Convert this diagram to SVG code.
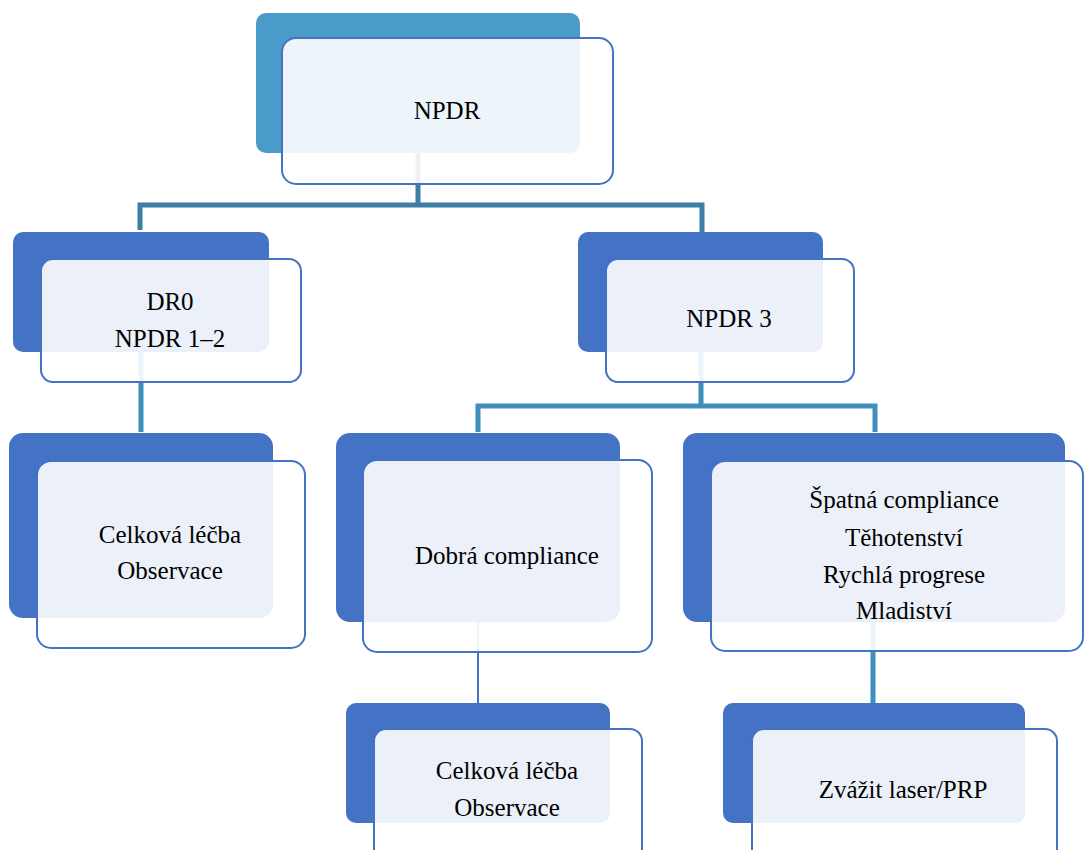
<svg xmlns="http://www.w3.org/2000/svg" width="1085" height="850" viewBox="0 0 1085 850">
<style>
.back{fill:#4472c4}
.backTop{fill:#4a9bc9}
.front{fill:#ffffff;fill-opacity:0.9;stroke:#4472c4;stroke-width:2}
.c1{stroke:#3c7ea5;stroke-width:5;fill:none}
.c2{stroke:#3e8fbd;stroke-width:5;fill:none}
.c3{stroke:#4472c4;stroke-width:2;fill:none}
.t{font-family:'Liberation Serif','DejaVu Serif',serif;font-size:25px;fill:#000;text-anchor:middle}
</style>
<rect width="1085" height="850" fill="#ffffff"/>
<g id="connectors">
<path class="c1" d="M418 153 V205 M140 230 V205 H702 V232"/>
<path class="c2" d="M141 352 V432"/>
<path class="c2" d="M701 352 V406 M478 432 V406 H875 V432"/>
<path class="c3" d="M478 622 V703"/>
<path class="c2" d="M873 622 V703"/>
</g>
<g id="n-npdr">
<rect class="backTop" x="256" y="13" width="324" height="140" rx="10"/>
<rect class="front" x="282" y="38" width="331" height="146" rx="14"/>
<text class="t" x="447" y="119">NPDR</text>
</g>
<g id="n-dr0">
<rect class="back" x="13" y="232" width="256" height="120" rx="10"/>
<rect class="front" x="41" y="259" width="260" height="123" rx="12"/>
<text class="t" x="170" y="310">DR0</text>
<text class="t" x="170" y="347">NPDR 1–2</text>
</g>
<g id="n-npdr3">
<rect class="back" x="578" y="232" width="245" height="120" rx="10"/>
<rect class="front" x="606" y="259" width="248" height="123" rx="12"/>
<text class="t" x="729" y="327">NPDR 3</text>
</g>
<g id="n-left3">
<rect class="back" x="9" y="433" width="264" height="185" rx="14"/>
<rect class="front" x="37" y="461" width="268" height="187" rx="14"/>
<text class="t" x="170" y="543">Celková léčba</text>
<text class="t" x="170" y="579">Observace</text>
</g>
<g id="n-dobra">
<rect class="back" x="336" y="433" width="284" height="189" rx="14"/>
<rect class="front" x="363" y="460" width="289" height="192" rx="14"/>
<text class="t" x="507" y="564">Dobrá compliance</text>
</g>
<g id="n-spatna">
<rect class="back" x="683" y="433" width="382" height="189" rx="14"/>
<rect class="front" x="711" y="461" width="372" height="190" rx="14"/>
<text class="t" x="904" y="508">Špatná compliance</text>
<text class="t" x="904" y="546">Těhotenství</text>
<text class="t" x="904" y="583">Rychlá progrese</text>
<text class="t" x="904" y="619">Mladiství</text>
</g>
<g id="n-celkova2">
<rect class="back" x="346" y="703" width="264" height="120" rx="10"/>
<rect class="front" x="374" y="729" width="268" height="135" rx="12"/>
<text class="t" x="507" y="779">Celková léčba</text>
<text class="t" x="507" y="816">Observace</text>
</g>
<g id="n-laser">
<rect class="back" x="723" y="703" width="302" height="120" rx="10"/>
<rect class="front" x="752" y="729" width="305" height="135" rx="12"/>
<text class="t" x="903" y="798">Zvážit laser/PRP</text>
</g>
</svg>
